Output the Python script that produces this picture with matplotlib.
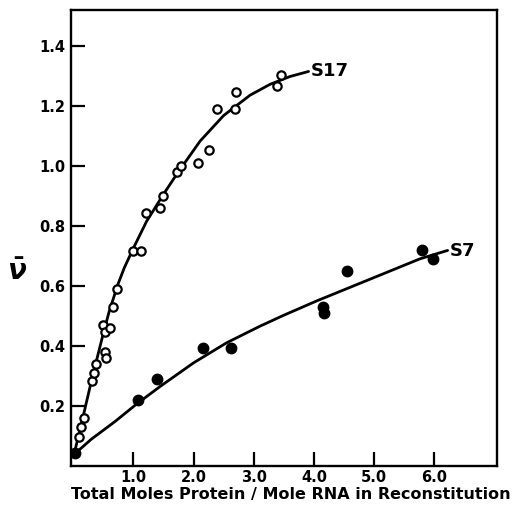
import matplotlib
matplotlib.use("Agg")
import matplotlib.pyplot as plt

# --- data ---
s17_x = [0.09, 0.13, 0.18, 0.31, 0.35, 0.375, 0.50, 0.53, 0.53, 0.54, 0.61, 0.67, 0.73,
         1.00, 1.12, 1.21, 1.44, 1.49, 1.73, 1.80, 2.07, 2.26, 2.39, 2.69, 2.71, 3.38, 3.46]
s17_y = [0.097, 0.130, 0.158, 0.282, 0.310, 0.338, 0.469, 0.447, 0.380, 0.360, 0.458, 0.530, 0.588,
         0.717, 0.717, 0.843, 0.858, 0.900, 0.980, 1.000, 1.011, 1.052, 1.189, 1.189, 1.245, 1.266, 1.302]

s7_x = [0.03, 1.08, 1.40, 2.15, 2.63, 4.15, 4.16, 4.55, 5.79, 5.98]
s7_y = [0.043, 0.219, 0.288, 0.393, 0.393, 0.530, 0.508, 0.649, 0.719, 0.688]

s17_curve_x = [0.03, 0.15, 0.28, 0.40, 0.50, 0.60, 0.75, 0.85, 1.00, 1.22, 1.50, 1.72,
               2.11, 2.50, 2.94, 3.27, 3.60, 3.91]
s17_curve_y = [0.050, 0.150, 0.262, 0.360, 0.440, 0.515, 0.608, 0.660, 0.725, 0.815, 0.905, 0.972,
               1.083, 1.168, 1.236, 1.272, 1.298, 1.315]

s7_curve_x = [0.03, 0.30, 0.70, 1.05, 1.45, 2.00, 2.55, 3.10, 3.50, 4.05, 4.60, 5.15, 5.76, 6.22]
s7_curve_y = [0.040, 0.088, 0.148, 0.205, 0.265, 0.343, 0.410, 0.465, 0.502, 0.550, 0.595, 0.640,
              0.690, 0.718]

x_ticks = [1.0, 2.0, 3.0, 4.0, 5.0, 6.0]
x_tick_labels = ["1.0", "2.0", "3.0", "4.0", "5.0", "6.0"]
y_ticks = [0.2, 0.4, 0.6, 0.8, 1.0, 1.2, 1.4]
y_tick_labels = ["0.2", "0.4", "0.6", "0.8", "1.0", "1.2", "1.4"]

plt.rcParams['font.family'] = ['DejaVu Sans']
plt.rcParams['font.weight'] = 'bold'

W, H = 513, 519
fig = plt.figure(figsize=(W / 100, H / 100), dpi=100)
ax = fig.add_axes([70.7 / W, 1 - 465.7 / H, (497 - 70.7) / W, (465.7 - 10) / H])

ax.set_xlim(-0.04, 7.04)
ax.set_ylim(0, 1.52)

ax.plot(s17_curve_x, s17_curve_y, color='black', lw=2.0, solid_capstyle='round',
        solid_joinstyle='round', zorder=2)
ax.plot(s7_curve_x, s7_curve_y, color='black', lw=2.0, solid_capstyle='round',
        solid_joinstyle='round', zorder=2)

ax.plot(s17_x, s17_y, linestyle='none', marker='o', markersize=6.0, markerfacecolor='white',
        markeredgecolor='black', markeredgewidth=1.6, zorder=3)
ax.plot(s7_x, s7_y, linestyle='none', marker='o', markersize=7.5, markerfacecolor='black',
        markeredgecolor='black', zorder=3)

ax.text(3.95, 1.315, "S17", fontsize=13, fontweight='bold', va='center', ha='left')
ax.text(6.26, 0.715, "S7", fontsize=13, fontweight='bold', va='center', ha='left')

for s in ax.spines.values():
    s.set_linewidth(1.7)

ax.set_xticks(x_ticks)
ax.set_xticklabels(x_tick_labels, fontsize=10.5, fontweight='bold')
ax.set_yticks(y_ticks)
ax.set_yticklabels(y_tick_labels, fontsize=10.5, fontweight='bold')
ax.tick_params(axis='both', direction='in', length=10, width=1.6, pad=3)
ax.tick_params(axis='y', pad=4)

fig.text(291 / W, 1 - 495 / H, "Total Moles Protein / Mole RNA in Reconstitution",
         fontsize=11.5, fontweight='bold', ha='center', va='center')
fig.text(17 / W, 1 - 272 / H, r'$\bar{\nu}$', fontsize=20, ha='center', va='center')

fig.savefig("out.png", dpi=100)
